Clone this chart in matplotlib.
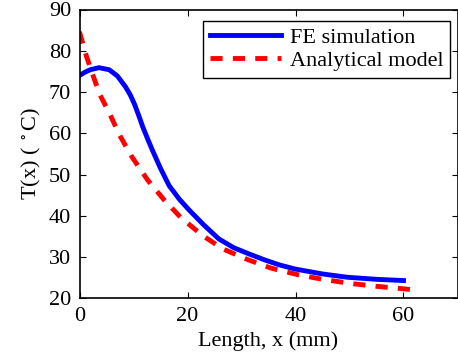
import matplotlib
matplotlib.use("Agg")
import matplotlib.pyplot as plt

# values
fe_x = [0, 1, 2, 3.6, 5.5, 7, 8.5, 9.4, 10.2, 11.0, 11.7, 12.6, 13.5, 15, 16.6, 18.5,
        20.3, 23, 25.8, 28.5, 31.3, 34.3, 37, 39.9, 45, 49.6, 55, 60]
fe_t = [74.0, 74.8, 75.4, 75.9, 75.4, 73.9, 71.3, 69.3, 67.0, 64.2, 61.6, 58.7, 55.9,
        51.5, 47.3, 44.0, 41.4, 37.8, 34.4, 32.3, 30.8, 29.3, 28.1, 27.1, 25.9, 25.1,
        24.6, 24.3]

an_x = [0, 1.3, 2.8, 3.8, 5.6, 7.4, 9.7, 12.6, 15.7, 18.75, 22.7, 26.5, 31.3, 35.5,
        40.5, 45, 50.2, 55, 60, 61.5]
an_t = [84.6, 78.6, 72.9, 69.3, 64.7, 59.6, 54.3, 48.7, 43.8, 39.6, 35.3, 32.0, 29.3,
        27.3, 25.7, 24.6, 23.6, 22.9, 22.3, 22.1]

plt.rcParams['font.family'] = ['Liberation Serif', 'DejaVu Serif']
plt.rcParams['mathtext.fontset'] = 'stix'

fig = plt.figure(figsize=(4.58, 3.62), dpi=100)
ax = fig.add_axes([79.5 / 458, 63.7 / 362, 378 / 458, 288.8 / 362])

ax.plot(fe_x, fe_t, color='blue', lw=3.5, label='FE simulation')
ax.plot(an_x, an_t, color='red', lw=3.5, linestyle=(0, (2.5, 2.1)), label='Analytical model')

ax.set_xlim(0, 70)
ax.set_ylim(20, 90)
ax.set_xticks([0, 20, 40, 60])
ax.set_yticks([20, 30, 40, 50, 60, 70, 80, 90])
ax.tick_params(direction='in', top=True, right=True, labelsize=16, length=4, width=0.8, pad=6)
for s in ax.spines.values():
    s.set_linewidth(1.2)

ax.set_xlabel('Length, x (mm)', fontsize=16, labelpad=4)
ax.set_ylabel(r'T(x) ( $^\circ$C)', fontsize=16, labelpad=4)

leg = ax.legend(loc='upper right', bbox_to_anchor=(0.980, 0.960), fontsize=16,
                frameon=True, fancybox=False, edgecolor='black', framealpha=1,
                handlelength=3.2, borderpad=0.3, labelspacing=0.1,
                handletextpad=0.4, borderaxespad=0)
leg.get_frame().set_linewidth(1.0)

fig.savefig('out.png', dpi=100)
